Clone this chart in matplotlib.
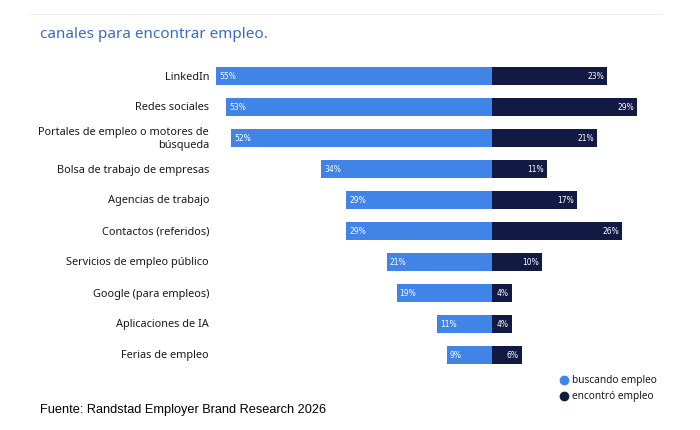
import matplotlib
matplotlib.use("Agg")
import matplotlib.pyplot as plt
from matplotlib.lines import Line2D

# datos
canales = [
    "LinkedIn",
    "Redes sociales",
    "Portales de empleo o motores de\nbúsqueda",
    "Bolsa de trabajo de empresas",
    "Agencias de trabajo",
    "Contactos (referidos)",
    "Servicios de empleo público",
    "Google (para empleos)",
    "Aplicaciones de IA",
    "Ferias de empleo",
]
buscando = [55, 53, 52, 34, 29, 29, 21, 19, 11, 9]
encontro = [23, 29, 21, 11, 17, 26, 10, 4, 4, 6]

azul = "#3f84e6"
navy = "#121a44"

W, H = 700, 431
fig = plt.figure(figsize=(W / 100, H / 100), dpi=100)

# axes en pixeles: x 200..660, y 61.5..371.5
ax = fig.add_axes([200 / W, 1 - 371.5 / H, 460 / W, 310 / H])
ax.set_xlim(-58.2, 33.5)
ax.set_ylim(len(canales) - 0.5, -0.5)
ax.axis("off")

y = list(range(len(canales)))
ax.barh(y, [-v for v in buscando], height=0.58, color=azul)
ax.barh(y, encontro, height=0.58, color=navy)

for i, (b, e) in enumerate(zip(buscando, encontro)):
    ax.text(-b + 0.6, i, f"{b}%", color="white", fontsize=5.5,
            va="center", ha="left")
    ax.text(e - 0.7, i, f"{e}%", color="white", fontsize=5.5,
            va="center", ha="right")

# etiquetas de categorias
for i, c in enumerate(canales):
    fig.text(209 / W, 1 - (77 + 31 * i) / H, c, ha="right", va="center",
             fontsize=7.9, family="Noto Sans", color="#1a1a1a",
             linespacing=1.15)

# titulo y linea superior
fig.add_artist(Line2D([30 / W, 662 / W], [1 - 15 / H, 1 - 15 / H],
                      color="#eeeeee", lw=0.8))
fig.text(40 / W, 1 - 35 / H, "canales para encontrar empleo.",
         fontsize=11, family="Noto Sans", color="#3a6cc4",
         va="center", ha="left")

# leyenda
for yy, col, lab in [(381, azul, "buscando empleo"), (397, navy, "encontró empleo")]:
    fig.add_artist(Line2D([564 / W], [1 - yy / H], marker="o", markersize=6,
                          color=col, linestyle="none"))
    fig.text(572 / W, 1 - yy / H, lab, fontsize=7.3, family="Noto Sans",
             va="center", ha="left", color="#1a1a1a")

fig.text(40 / W, 1 - 410 / H, "Fuente: Randstad Employer Brand Research 2026",
         fontsize=9.2, family="Liberation Sans", va="center", ha="left",
         color="black")

fig.savefig("out.png", dpi=100, facecolor="white")
